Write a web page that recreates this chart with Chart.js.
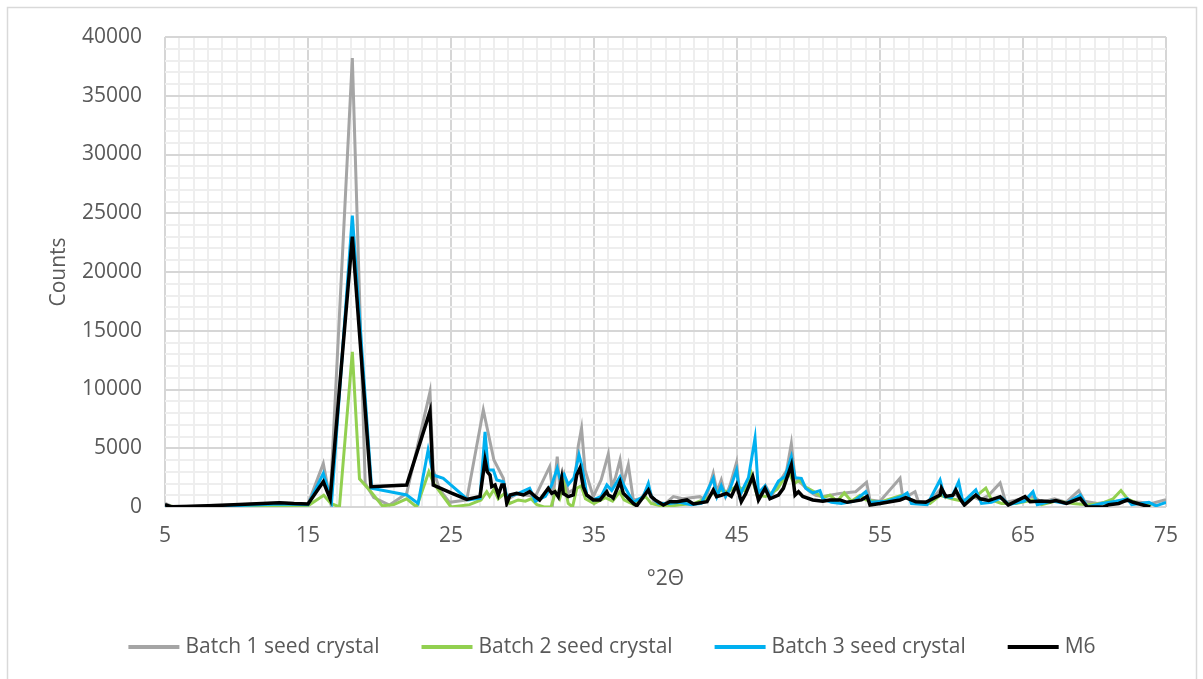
<!DOCTYPE html>
<html>
<head>
<meta charset="utf-8">
<script src="https://cdn.jsdelivr.net/npm/chart.js@4/dist/chart.umd.min.js"></script>
<style>
  html, body { margin: 0; padding: 0; background: #ffffff; }
  #wrap { width: 1203px; height: 679px; position: relative; }
</style>
</head>
<body>
<div id="wrap"><canvas id="xrd" width="1203" height="679"></canvas></div>
<script>
// Diffraction angles (°2Θ) and intensities (counts) for each sample
const batch1Angle = [5.0,5.5,7,10,13,15.0,16.07,16.55,18.1,19.0,19.6,20.7,21.9,23.53,23.76,24.2,24.9,26.1,27.26,28.0,28.66,28.9,29.6,30.3,30.9,31.9,32.15,32.43,32.6,32.9,33.2,33.6,33.9,34.13,34.37,34.95,35.5,36.0,36.24,36.5,36.82,37.05,37.4,37.75,38.3,38.8,39.2,40.0,40.55,41.2,42.4,42.8,43.34,43.6,43.9,44.2,44.5,44.97,45.2,45.6,46.0,46.3,46.6,47.0,47.4,48.0,48.47,48.8,49.06,49.5,50.0,50.5,51.0,52.2,53.3,54.06,54.3,55.0,56.4,56.6,57.45,57.7,58.5,59.3,59.6,60.3,60.7,61.5,62.0,62.6,63.4,63.8,65.0,65.7,66.3,67.2,68.0,68.9,69.3,70.2,71.2,72.3,73.2,74.0,74.9,75];
const batch1Counts = [300,50,80,200,350,250,3700,600,38200,2000,800,170,1160,9800,3150,1500,400,600,8250,4000,2440,600,1100,1000,900,3430,880,4280,1730,2800,1200,1500,5200,6700,3150,880,2300,4500,1730,2500,4000,2000,3600,600,700,1730,400,300,880,700,880,600,2870,1300,2300,900,1800,3800,1000,1800,2700,1400,800,1800,900,2200,3100,5400,2400,2000,1400,1000,900,1160,1300,2100,600,500,2450,700,1300,400,500,1600,800,1100,500,900,600,1000,2050,400,700,900,400,700,400,1400,500,300,500,500,400,300,600,600];

const batch2Angle = [5.0,6,9,12,15,16.1,16.6,17.2,18.1,18.6,19.4,20.2,21.0,21.9,22.6,23.45,23.8,24.4,25.0,26.3,27.1,27.5,27.7,28.0,28.3,28.8,29.1,29.7,30.2,30.6,31.0,31.5,32.0,32.3,32.6,32.9,33.2,33.5,33.8,34.1,34.4,35.0,35.8,36.3,36.8,37.1,37.8,38.6,39.0,40.0,41.0,42.0,43.0,43.4,43.9,44.4,45.0,45.5,46.0,46.4,47.0,47.8,48.6,49.0,49.4,49.8,50.4,51.0,51.5,52.0,52.5,53.0,53.6,54.0,55.0,56.5,57.0,57.6,58.5,59.2,60.0,60.8,61.7,62.4,62.8,63.5,64.5,65.7,66.3,67.3,68.5,69.5,70.5,71.3,71.85,72.3,73.0,74.0];
const batch2Counts = [100,0,30,100,100,1000,300,0,13200,2400,1300,100,200,700,0,3000,2000,1000,0,200,600,1300,900,1500,700,1200,300,600,500,700,200,0,0,1300,700,2000,300,0,1600,1800,700,300,800,500,1300,600,200,900,300,0,200,300,800,1300,1400,1300,1800,1400,2870,1000,900,1500,3000,2000,2300,1700,1300,800,1000,500,1200,500,1000,600,400,1000,700,400,300,1000,700,500,900,1600,600,300,300,600,200,500,300,200,300,700,1400,700,300,200];

const batch3Angle = [5.0,5.5,7,10,13,15.0,16.07,16.65,18.1,19.45,21.9,22.7,23.4,23.76,24.46,26.2,27.03,27.38,27.6,27.96,28.2,28.66,28.9,29.6,30.5,30.9,31.6,32.04,32.43,32.6,32.9,33.2,33.6,33.95,34.13,34.37,34.49,34.95,35.5,35.9,36.24,36.82,37.1,37.29,37.75,38.45,38.8,39.0,39.5,40.3,41.0,41.8,42.5,43.34,43.6,43.9,44.2,44.5,44.97,45.2,45.8,46.26,46.5,46.96,47.3,47.9,48.36,48.8,49.06,49.5,49.8,50.3,50.8,51.0,51.6,52.3,53.2,54.0,54.3,55.5,56.5,56.9,57.2,58.3,59.2,59.5,60.0,60.5,60.8,61.7,62.1,62.8,63.5,64.0,65.1,65.7,66.0,67.0,68.0,69.0,69.5,70.5,71.5,72.3,72.6,73.8,74.3,75];
const batch3Counts = [150,0,30,120,250,200,2870,450,24800,1590,1020,310,4850,2720,2440,600,740,6400,3150,3150,2300,2150,880,1100,1590,500,900,1870,3290,2500,2800,1900,2500,4430,3600,2000,1000,600,900,1870,1400,2580,1800,1400,400,900,2010,900,300,300,400,200,300,2440,900,1800,900,1500,3150,1000,2500,5850,1200,1800,900,2200,2600,4280,2500,2440,1600,1200,1400,700,400,300,500,1300,400,500,900,1200,300,200,2300,900,800,2150,400,1450,300,400,800,200,500,1300,200,500,300,1020,0,300,500,700,200,400,100,400];

const m6Angle = [5.0,5.4,6.5,9,11,13,14,15.0,16.07,16.55,18.1,19.4,21.9,23.53,23.76,25.0,26.1,27.03,27.38,27.54,27.73,27.85,28.08,28.31,28.55,28.71,28.9,29.13,29.6,30.06,30.5,30.9,31.2,31.8,32.04,32.27,32.5,32.74,32.85,33.2,33.55,33.79,34.02,34.25,34.49,34.95,35.42,35.89,36.0,36.24,36.35,36.82,37.05,37.29,37.75,37.99,38.45,38.8,39.0,39.27,39.85,40.3,40.8,41.5,41.96,42.9,43.34,43.57,43.9,44.27,44.6,44.97,45.3,45.6,46.1,46.5,46.96,47.3,47.9,48.24,48.8,49.06,49.3,49.6,50.3,51.0,51.5,52.2,52.7,53.2,53.7,54.1,54.3,55.0,56.4,56.8,57.5,58.2,59.2,59.3,59.6,60.1,60.3,60.6,60.9,61.7,62.0,62.6,63.4,63.97,65.14,65.5,66.3,66.9,67.3,68.05,69.0,69.5,70.6,71.0,71.7,72.3,72.7,73.9];
const m6Counts = [200,30,50,150,250,370,300,260,2150,700,23000,1730,1870,8150,1870,1200,650,900,4000,3000,2720,1730,1870,1020,1870,1870,310,1020,1160,1020,1300,880,600,1590,1160,1300,880,2440,1160,880,1020,2720,3300,1730,1020,600,600,1300,1020,880,760,2150,1160,880,310,100,880,1450,880,600,170,450,450,600,260,450,1450,880,1000,1160,900,1870,450,1100,2580,600,1590,700,1020,1590,3570,1020,1300,900,600,500,600,600,400,500,600,900,170,300,600,800,450,400,1020,1590,900,1000,1450,700,170,1020,700,550,880,170,880,450,500,450,550,310,740,0,0,200,300,600,400,0];

const seriesNames = ['Batch 1 seed crystal', 'Batch 2 seed crystal', 'Batch 3 seed crystal', 'M6'];
const seriesColors = ['#a5a5a5', '#92d050', '#00b0f0', '#000000'];
const xTickValues = [5, 15, 25, 35, 45, 55, 65, 75];
const yTickValues = [0, 5000, 10000, 15000, 20000, 25000, 30000, 35000, 40000];

const FONT = "'Open Sans', 'DejaVu Sans', sans-serif";
const TEXT = '#595959';

function toPoints(xs, ys) { return xs.map((x, i) => ({ x: x, y: ys[i] })); }

const seriesData = [
  toPoints(batch1Angle, batch1Counts),
  toPoints(batch2Angle, batch2Counts),
  toPoints(batch3Angle, batch3Counts),
  toPoints(m6Angle, m6Counts)
];
const widths = [3, 3, 3, 3.5];

const datasets = seriesNames.map((name, i) => ({
  label: name,
  data: seriesData[i],
  borderColor: seriesColors[i],
  backgroundColor: seriesColors[i],
  borderWidth: widths[i],
  pointRadius: 0,
  tension: 0,
  fill: false,
  order: seriesNames.length - i
}));

// White background and a thin frame around the figure
const framePlugin = {
  id: 'frame',
  beforeDraw(chart) {
    const c = chart.ctx;
    c.save();
    c.fillStyle = '#ffffff';
    c.fillRect(0, 0, chart.width, chart.height);
    c.strokeStyle = '#d9d9d9';
    c.lineWidth = 1.5;
    c.strokeRect(7.5, 7.5, 1189, 700);
    c.restore();
  }
};

// Horizontal legend centred under the plot
const legendPlugin = {
  id: 'lineLegend',
  afterDraw(chart) {
    const c = chart.ctx;
    const lineLen = 51, gapText = 6, gapItem = 42, y = 647, centre = 612;
    c.save();
    c.font = '21px ' + FONT;
    c.textBaseline = 'middle';
    const items = chart.data.datasets.map(ds => ({
      label: ds.label, color: ds.borderColor,
      w: lineLen + gapText + c.measureText(ds.label).width
    }));
    const total = items.reduce((s, it) => s + it.w, 0) + gapItem * (items.length - 1);
    let x = centre - total / 2;
    items.forEach(it => {
      c.strokeStyle = it.color;
      c.lineWidth = 4;
      c.beginPath();
      c.moveTo(x, y);
      c.lineTo(x + lineLen, y);
      c.stroke();
      c.fillStyle = TEXT;
      c.textAlign = 'left';
      c.fillText(it.label, x + lineLen + gapText, y);
      x += it.w + gapItem;
    });
    c.restore();
  }
};

new Chart(document.getElementById('xrd'), {
  type: 'line',
  data: { datasets: datasets },
  plugins: [framePlugin, legendPlugin],
  options: {
    responsive: false,
    animation: false,
    layout: { padding: { left: 40, right: 37, top: 37, bottom: 80 } },
    plugins: {
      legend: { display: false },
      tooltip: { enabled: false }
    },
    scales: {
      x: {
        type: 'linear',
        min: 5,
        max: 75,
        afterFit(scale) { scale.height = 92; },
        afterBuildTicks(scale) {
          const t = [];
          for (let v = 5; v <= 75; v++) t.push({ value: v });
          scale.ticks = t;
        },
        ticks: {
          autoSkip: false,
          maxRotation: 0,
          padding: 16,
          color: TEXT,
          font: { family: FONT, size: 21 },
          callback: v => (xTickValues.includes(v) ? String(v) : '')
        },
        grid: {
          drawTicks: false,
          lineWidth: 2,
          color: ctx => (ctx.tick && xTickValues.includes(ctx.tick.value) ? '#d6d6d6' : '#eeeeee')
        },
        border: { display: false },
        title: {
          display: true,
          text: '°2Θ',
          color: TEXT,
          font: { family: FONT, size: 21 },
          padding: { top: 0, bottom: 7 }
        }
      },
      y: {
        min: 0,
        max: 40000,
        afterFit(scale) { scale.width = 125; },
        afterBuildTicks(scale) {
          const t = [];
          for (let v = 0; v <= 40000; v += 1000) t.push({ value: v });
          scale.ticks = t;
        },
        ticks: {
          autoSkip: false,
          padding: 23,
          color: TEXT,
          font: { family: FONT, size: 21 },
          callback: v => (yTickValues.includes(v) ? String(v) : '')
        },
        grid: {
          drawTicks: false,
          lineWidth: 2,
          color: ctx => (ctx.tick && yTickValues.includes(ctx.tick.value) ? '#d6d6d6' : '#eeeeee')
        },
        border: { display: false },
        title: {
          display: true,
          text: 'Counts',
          color: TEXT,
          font: { family: FONT, size: 21 },
          padding: { top: 6, bottom: 0 }
        }
      }
    }
  }
});
</script>
</body>
</html>
